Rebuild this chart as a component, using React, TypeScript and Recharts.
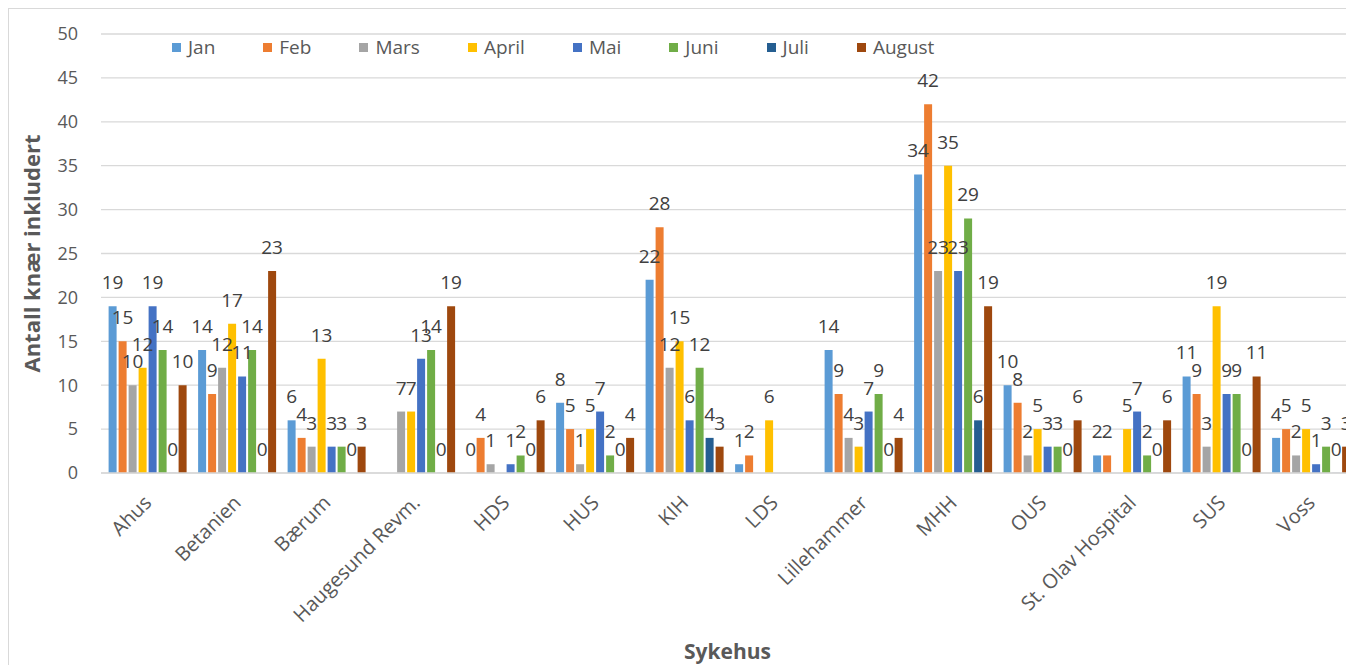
import { Bar, BarChart, CartesianGrid, LabelList, XAxis, YAxis } from "recharts";

const hospitals = [
  "Ahus",
  "Betanien",
  "Bærum",
  "Haugesund Revm.",
  "HDS",
  "HUS",
  "KIH",
  "LDS",
  "Lillehammer",
  "MHH",
  "OUS",
  "St. Olav Hospital",
  "SUS",
  "Voss",
];

// null = no bar and no label in the original
const jan = [19, 14, 6, null, 0, 8, 22, 1, 14, 34, 10, 2, 11, 4];
const feb = [15, 9, 4, null, 4, 5, 28, 2, 9, 42, 8, 2, 9, 5];
const mars = [10, 12, 3, 7, 1, 1, 12, null, 4, 23, 2, null, 3, 2];
const april = [12, 17, 13, 7, null, 5, 15, 6, 3, 35, 5, 5, 19, 5];
const mai = [19, 11, 3, 13, 1, 7, 6, null, 7, 23, 3, 7, 9, 1];
const juni = [14, 14, 3, 14, 2, 2, 12, null, 9, 29, 3, 2, 9, 3];
const juli = [0, 0, 0, 0, 0, 0, 4, null, 0, 6, 0, 0, 0, 0];
const august = [10, 23, 3, 19, 6, 4, 3, null, 4, 19, 6, 6, 11, 3];

const yTicks = [0, 5, 10, 15, 20, 25, 30, 35, 40, 45, 50];

const series = [
  { key: "Jan", values: jan, color: "#5B9BD5" },
  { key: "Feb", values: feb, color: "#ED7D31" },
  { key: "Mars", values: mars, color: "#A5A5A5" },
  { key: "April", values: april, color: "#FFC000" },
  { key: "Mai", values: mai, color: "#4472C4" },
  { key: "Juni", values: juni, color: "#70AD47" },
  { key: "Juli", values: juli, color: "#255E91" },
  { key: "August", values: august, color: "#9E480E" },
];

const data = hospitals.map((name, i) => {
  const row: Record<string, string | number | null> = { name };
  series.forEach((s) => {
    row[s.key] = s.values[i];
  });
  return row;
});

const FONT = "'Open Sans', sans-serif";

function ValueLabel(props: any) {
  const { x, y, width, value } = props;
  if (value === null || value === undefined || value === "") return null;
  return (
    <text
      x={Number(x) + Number(width) / 2}
      y={Number(y) - 17}
      textAnchor="middle"
      fill="#404040"
      fontSize={19}
      fontFamily={FONT}
    >
      {value}
    </text>
  );
}

function HospitalTick(props: any) {
  const { x, y, payload } = props;
  return (
    <g transform={`translate(${x + 7},${y + 23})`}>
      <text
        x={0}
        y={0}
        textAnchor="end"
        transform="rotate(-45)"
        fill="#595959"
        fontSize={20}
        fontFamily={FONT}
      >
        {payload.value}
      </text>
    </g>
  );
}

function ChartLegend() {
  return (
    <div
      style={{
        position: "absolute",
        top: 26,
        left: 163,
        display: "flex",
        gap: 48,
        fontFamily: FONT,
        fontSize: 19,
        color: "#595959",
        lineHeight: "24px",
      }}
    >
      {series.map((s) => (
        <div key={s.key} style={{ display: "flex", alignItems: "center" }}>
          <span style={{ width: 9, height: 9, background: s.color, marginRight: 7, display: "inline-block" }} />
          <span>{s.key}</span>
        </div>
      ))}
    </div>
  );
}

export default function App() {
  return (
    <div
      style={{
        position: "fixed",
        top: 8,
        left: 8,
        width: 1338,
        height: 657,
        overflow: "hidden",
        background: "#fff",
      }}
    >
      <div
        style={{
          position: "relative",
          border: "1px solid #d9d9d9",
          width: 1360,
          height: 680,
          boxSizing: "border-box",
        }}
      >
        <BarChart
          width={1350}
          height={660}
          data={data}
          margin={{ top: 25, right: 5, left: 0, bottom: 0 }}
          barCategoryGap="8.5%"
          barGap={2}
        >
          <CartesianGrid vertical={false} stroke="#d9d9d9" strokeWidth={1.3} />
          <XAxis
            dataKey="name"
            interval={0}
            height={196}
            tickLine={false}
            axisLine={{ stroke: "#d9d9d9", strokeWidth: 1.3 }}
            tick={<HospitalTick />}
            label={{
              value: "Sykehus",
              position: "insideBottom",
              offset: 10,
              style: { fontFamily: FONT, fontSize: 21, fontWeight: 700, fill: "#595959" },
            }}
          />
          <YAxis
            width={92}
            domain={[0, 50]}
            ticks={yTicks}
            tickLine={false}
            axisLine={false}
            tickSize={0}
            tickMargin={23}
            tick={{ fill: "#595959", fontSize: 18, fontFamily: FONT }}
            label={{
              value: "Antall knær inkludert",
              angle: -90,
              position: "insideLeft",
              offset: 23,
              style: { textAnchor: "middle", fontFamily: FONT, fontSize: 22, fontWeight: 700, fill: "#595959" },
            }}
          />
          {series.map((s) => (
            <Bar
              key={s.key}
              dataKey={s.key}
              fill={s.color}
              minPointSize={(v: any) => (v === 0 ? 0.1 : 0)}
              isAnimationActive={false}
            >
              <LabelList dataKey={s.key} content={<ValueLabel />} />
            </Bar>
          ))}
        </BarChart>
        <ChartLegend />
      </div>
    </div>
  );
}
